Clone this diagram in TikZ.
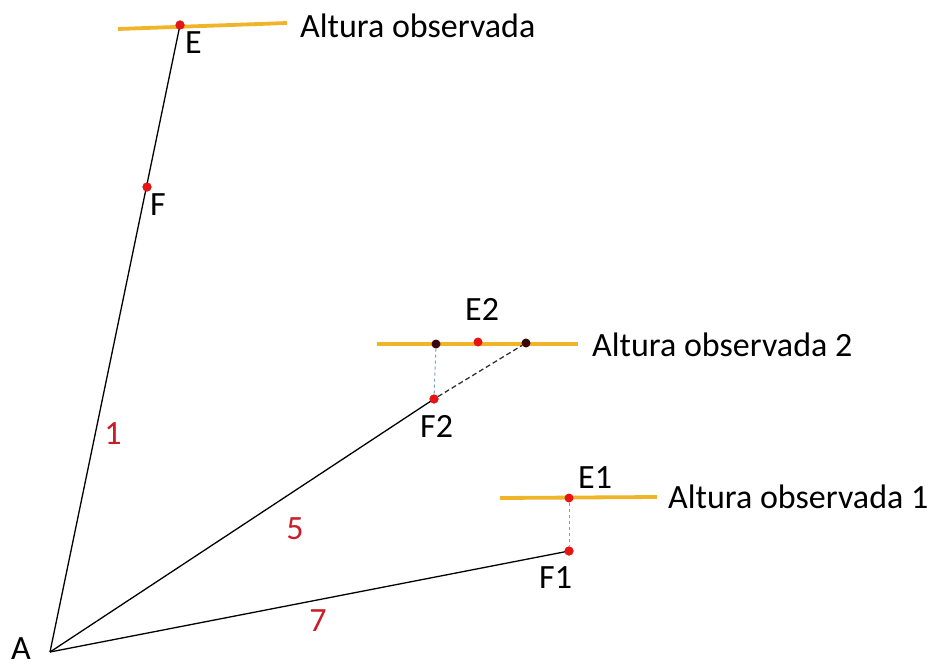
\documentclass[tikz,border=0pt]{standalone}
\usepackage{fontspec}
\setmainfont{Carlito}
\begin{document}
\begin{tikzpicture}[x=1pt,y=-1pt,
  lbl/.style={font=\fontsize{34}{36}\selectfont, text=black, inner sep=0pt, anchor=base west},
  num/.style={font=\fontsize{34}{36}\selectfont, text=numred, inner sep=0pt},
  hline/.style={draw=gold, line width=3.8pt},
  seg/.style={draw=black, line width=1.3pt},
  rdot/.style={circle, fill=dotred, inner sep=0pt, minimum size=9pt},
  ddot/.style={circle, fill=darkdot, inner sep=0pt, minimum size=9pt},
  bdash/.style={draw=dashblue, line width=1pt, dashed},
  kdash/.style={draw=black!80, line width=1.3pt, dash pattern=on 5pt off 3pt}]
\definecolor{gold}{RGB}{240,180,40}
\definecolor{dotred}{RGB}{230,20,20}
\definecolor{darkdot}{RGB}{60,5,5}
\definecolor{numred}{RGB}{200,30,40}
\definecolor{dashblue}{RGB}{120,160,200}
\useasboundingbox (0,0) rectangle (941,666);
% coordinates
\coordinate (A) at (50,652);
\coordinate (Ltop) at (118,29);
\coordinate (Rtop) at (287,23);
\coordinate (L2) at (377,344);
\coordinate (R2) at (578,344);
\coordinate (L1) at (500,498);
\coordinate (R1) at (657,497);
% horizontal lines
\draw[hline] (Ltop) -- (Rtop);
\draw[hline] (L2) -- (R2);
\draw[hline] (L1) -- (R1);
% points
\node[rdot] (E) at (180,25) {};
\node[rdot] (F) at (147,187) {};
\node[rdot] (F2) at (434,399) {};
\node[ddot] (P2a) at (436,344) {};
\node[rdot] (E2) at (478,342) {};
\node[ddot] (P2b) at (526,343) {};
\node[rdot] (E1) at (569,498) {};
\node[rdot] (F1) at (569,551) {};
% connectors
\draw[seg] (A) -- (E.center);
\draw[seg] (A) -- (F2.center);
\draw[seg] (A) -- (F1.center);
\draw[bdash] (P2a) -- (F2);
\draw[kdash] (F2) -- (P2b);
\draw[bdash] (E1) -- (F1);
% redraw dots on top
\node[rdot] at (E) {};
\node[rdot] at (F) {};
\node[rdot] at (F2) {};
\node[rdot] at (F1) {};
% labels
\node[lbl, text depth=0pt] (tA) at (11,659) {A};
\node[lbl] (tE) at (185,54) {E};
\node[lbl] (tF) at (150,215) {F};
\node[lbl] (tE2) at (465,320) {E2};
\node[lbl] (tF2) at (420,437) {F2};
\node[lbl] (tE1) at (578,488) {E1};
\node[lbl] (tF1) at (539,588) {F1};
\node[lbl] (t0) at (300,38) {Altura observada};
\node[lbl] (t2) at (592,356) {Altura observada 2};
\node[lbl] (t1) at (668,508) {Altura observada 1};
\node[num] (n1) at (113,434) {1};
\node[num] (n5) at (295,529) {5};
\node[num] (n7) at (318,621) {7};
\end{tikzpicture}
\end{document}
